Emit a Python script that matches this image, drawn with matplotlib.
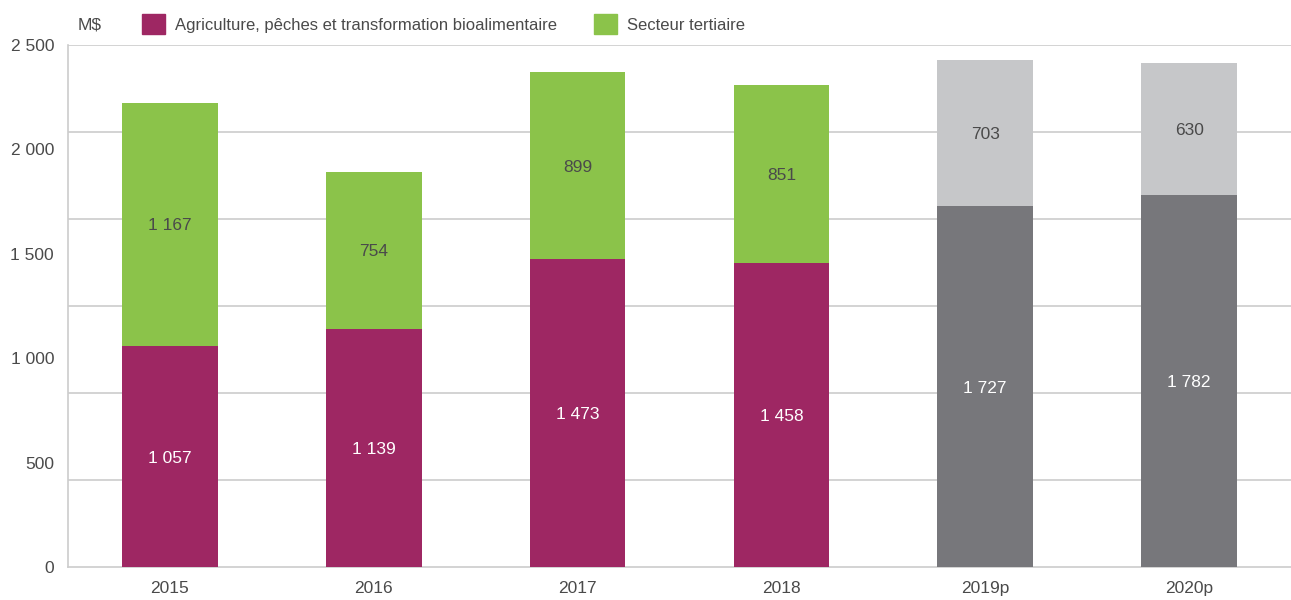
import matplotlib.pyplot as plt
import numpy as np
from matplotlib.patches import Patch

# données (M$)
annees = ['2015', '2016', '2017', '2018', '2019p', '2020p']
agriculture = [1057, 1139, 1473, 1458, 1727, 1782]
tertiaire = [1167, 754, 899, 851, 703, 630]
n_reels = 4  # les deux dernières années sont des prévisions

plt.rcParams['font.family'] = ['Liberation Sans', 'DejaVu Sans']

gris_txt = '#4a4a4a'
mauve = '#9e2763'
vert = '#8bc34a'
gris_fonce = '#77777b'
gris_clair = '#c6c7c9'
gris_ligne = '#cccccc'

fig = plt.figure(figsize=(12.91, 6.0), dpi=100)
ax = fig.add_axes([68 / 1291, 33 / 600, 1 - 68 / 1291, 522 / 600])

x = np.arange(len(annees))
coul_bas = [mauve] * n_reels + [gris_fonce] * (len(annees) - n_reels)
coul_haut = [vert] * n_reels + [gris_clair] * (len(annees) - n_reels)

ax.bar(x, agriculture, width=0.47, color=coul_bas, zorder=3)
ax.bar(x, tertiaire, width=0.47, bottom=agriculture, color=coul_haut, zorder=3)

for i in range(len(annees)):
    a = agriculture[i]
    t = tertiaire[i]
    ax.text(x[i], a / 2, f'{a:,}'.replace(',', ' '), ha='center', va='center_baseline',
            color='white', fontsize=12.5, zorder=4)
    ax.text(x[i], a + t / 2, f'{t:,}'.replace(',', ' '), ha='center', va='center_baseline',
            color=gris_txt, fontsize=12.5, zorder=4)

# lignes de grille (6 divisions, comme l'original)
for g in np.linspace(0, 2500, 7)[1:]:
    ax.axhline(g, color=gris_ligne, lw=1.2, zorder=1)

ax.set_xlim(-0.5, len(annees) - 0.5)
ax.set_ylim(0, 2500)
ax.set_yticks(np.arange(0, 2501, 500))
ax.set_yticklabels([f'{v:,}'.replace(',', ' ') for v in range(0, 2501, 500)])
ax.set_xticks(x)
ax.set_xticklabels(annees)
ax.tick_params(axis='both', length=0, labelsize=12.5, labelcolor=gris_txt)
ax.tick_params(axis='x', pad=10)
ax.tick_params(axis='y', pad=10)

for s in ['top', 'right']:
    ax.spines[s].set_visible(False)
for s in ['left', 'bottom']:
    ax.spines[s].set_color(gris_ligne)
    ax.spines[s].set_linewidth(1.2)

fig.text(78 / 1291, 1 - 25 / 600, 'M$', fontsize=12.5, color=gris_txt, va='center')

poignees = [Patch(color=mauve), Patch(color=vert)]
fig.legend(poignees, ['Agriculture, pêches et transformation bioalimentaire', 'Secteur tertiaire'],
           loc='center left', bbox_to_anchor=(127 / 1291, 1 - 24 / 600), ncol=2,
           frameon=False, fontsize=12, labelcolor=gris_txt,
           handlelength=1.4, handleheight=1.4, handletextpad=0.6, columnspacing=2.2)

fig.savefig('out.png', dpi=100)
